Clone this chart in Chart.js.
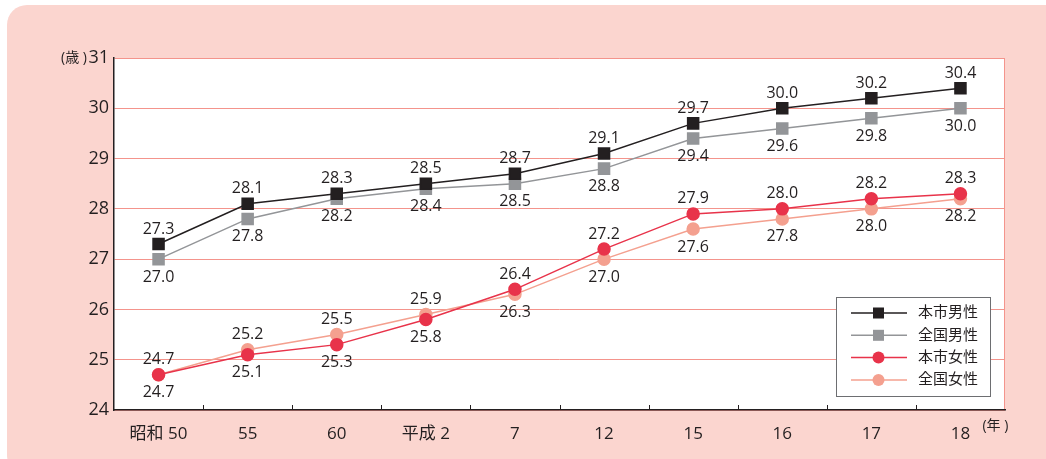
<!DOCTYPE html>
<html>
<head>
<meta charset="utf-8">
<script src="https://cdn.jsdelivr.net/npm/chart.js@4"></script>
<style>
  html, body { margin: 0; padding: 0; background: #fff; }
  #wrap { position: relative; width: 1046px; height: 459px; overflow: hidden; }
  #bg { position: absolute; left: 7px; top: 5px; width: 1060px; height: 470px; background: #fbd5cf; border-radius: 20px; }
  #wrap canvas { position: absolute; left: 0; top: 0; }
</style>
</head>
<body>
<div id="wrap">
  <div id="bg"></div>
  <canvas id="ageChart" width="1046" height="459"></canvas>
</div>
<script>
// categories (年)
const years = ["昭和 50", "55", "60", "平成 2", "7", "12", "15", "16", "17", "18"];
// 平均初婚年齢 (歳)
const cityMen = [27.3, 28.1, 28.3, 28.5, 28.7, 29.1, 29.7, 30.0, 30.2, 30.4];
const nationMen = [27.0, 27.8, 28.2, 28.4, 28.5, 28.8, 29.4, 29.6, 29.8, 30.0];
const cityWomen = [24.7, 25.1, 25.3, 25.8, 26.4, 27.2, 27.9, 28.0, 28.2, 28.3];
const nationWomen = [24.7, 25.2, 25.5, 25.9, 26.3, 27.0, 27.6, 27.8, 28.0, 28.2];
const yTicks = [24, 25, 26, 27, 28, 29, 30, 31];

// which side each value label sits on (1 = above, -1 = below)
const cityMenSide = [1, 1, 1, 1, 1, 1, 1, 1, 1, 1];
const nationMenSide = [-1, -1, -1, -1, -1, -1, -1, -1, -1, -1];
const cityWomenSide = [1, -1, -1, -1, 1, 1, 1, 1, 1, 1];
const nationWomenSide = [-1, 1, 1, 1, -1, -1, -1, -1, -1, -1];

const TXT = "#231f20";
const FONT = "'Open Sans', 'Noto Sans CJK JP', sans-serif";

// white plot area + inner ticks + unit labels
const decor = {
  id: "decor",
  beforeDraw(chart) {
    const { ctx, chartArea: a } = chart;
    ctx.save();
    ctx.fillStyle = "#fff";
    ctx.fillRect(a.left, a.top, a.right - a.left, a.bottom - a.top);
    ctx.strokeStyle = "#f4948c";
    ctx.lineWidth = 1;
    ctx.beginPath();
    ctx.moveTo(a.right - 0.5, a.top);
    ctx.lineTo(a.right - 0.5, a.bottom);
    ctx.stroke();
    ctx.restore();
  },
  afterDraw(chart) {
    const { ctx, chartArea: a, scales } = chart;
    const x = scales.x;
    ctx.save();
    // short ticks pointing into the plot between categories
    ctx.strokeStyle = TXT;
    ctx.lineWidth = 1;
    const step = x.getPixelForValue(1) - x.getPixelForValue(0);
    for (let i = 1; i < years.length; i++) {
      const px = Math.round(x.getPixelForValue(i) - step / 2) + 0.5;
      ctx.beginPath();
      ctx.moveTo(px, a.bottom);
      ctx.lineTo(px, a.bottom - 5);
      ctx.stroke();
    }
    ctx.fillStyle = TXT;
    ctx.font = "14px " + FONT;
    ctx.textBaseline = "middle";
    ctx.textAlign = "right";
    ctx.fillText("(歳 )", a.left - 27, a.top);
    ctx.textAlign = "left";
    ctx.fillText("(年 )", x.getPixelForValue(years.length - 1) + 22, a.bottom + 16);
    ctx.restore();
  }
};

// value labels next to every point
const valueLabels = {
  id: "valueLabels",
  afterDatasetsDraw(chart) {
    const { ctx } = chart;
    ctx.save();
    ctx.fillStyle = TXT;
    ctx.font = "16px " + FONT;
    ctx.textAlign = "center";
    ctx.textBaseline = "middle";
    chart.data.datasets.forEach((ds, di) => {
      chart.getDatasetMeta(di).data.forEach((pt, i) => {
        const side = ds.labelSide[i];
        const dy = side > 0 ? -15 : 18;
        ctx.fillText(ds.data[i].toFixed(1), pt.x, pt.y + dy);
      });
    });
    ctx.restore();
  }
};

// legend box inside the plot, bottom right
const boxLegend = {
  id: "boxLegend",
  afterDraw(chart) {
    const { ctx, chartArea: a } = chart;
    const bx = a.right - 169, by = a.bottom - 113, bw = 154, bh = 99;
    ctx.save();
    ctx.fillStyle = "#fff";
    ctx.fillRect(bx, by, bw, bh);
    ctx.strokeStyle = "#6d6e71";
    ctx.lineWidth = 1;
    ctx.strokeRect(bx + 0.5, by + 0.5, bw, bh);
    chart.data.datasets.forEach((ds, i) => {
      const y = by + 16 + i * 22.3;
      ctx.strokeStyle = ds.borderColor;
      ctx.lineWidth = 1.5;
      ctx.beginPath();
      ctx.moveTo(bx + 15, y);
      ctx.lineTo(bx + 71, y);
      ctx.stroke();
      ctx.fillStyle = ds.backgroundColor;
      if (ds.pointStyle === "rect") {
        ctx.fillRect(bx + 37, y - 5.5, 11, 11);
      } else {
        ctx.beginPath();
        ctx.arc(bx + 42.5, y, 6, 0, Math.PI * 2);
        ctx.fill();
      }
      ctx.fillStyle = TXT;
      ctx.font = "15px " + FONT;
      ctx.textBaseline = "middle";
      ctx.fillText(ds.label, bx + 82, y);
    });
    ctx.restore();
  }
};

const series = (label, data, color, style, side) => ({
  label: label,
  data: data,
  labelSide: side,
  borderColor: color,
  backgroundColor: color,
  pointBackgroundColor: color,
  pointBorderColor: color,
  pointStyle: style,
  pointRadius: style === "rect" ? 7.8 : 6,
  borderWidth: 1.5,
  tension: 0
});

new Chart(document.getElementById("ageChart"), {
  type: "line",
  data: {
    labels: years,
    datasets: [
      series("本市男性", cityMen, "#231f20", "rect", cityMenSide),
      series("全国男性", nationMen, "#939598", "rect", nationMenSide),
      series("本市女性", cityWomen, "#e8334a", "circle", cityWomenSide),
      series("全国女性", nationWomen, "#f4a08f", "circle", nationWomenSide)
    ]
  },
  options: {
    responsive: false,
    animation: false,
    layout: { padding: { left: 10, top: 58, right: 41, bottom: 10 } },
    plugins: { legend: { display: false }, tooltip: { enabled: false } },
    scales: {
      x: {
        offset: true,
        grid: { display: false },
        border: { color: TXT, width: 1.5 },
        ticks: { color: TXT, font: { family: FONT, size: 17 }, padding: 6, maxRotation: 0 },
        afterFit(s) { s.height = 39; }
      },
      y: {
        min: 24,
        max: 31,
        afterBuildTicks(s) { s.ticks = yTicks.map(v => ({ value: v })); },
        grid: { color: "#f4948c", lineWidth: 1, drawTicks: false },
        border: { color: TXT, width: 1.5 },
        ticks: { color: TXT, font: { family: FONT, size: 18 }, padding: 5 },
        afterFit(s) { s.width = 104; }
      }
    }
  },
  plugins: [decor, valueLabels, boxLegend]
});
</script>
</body>
</html>
